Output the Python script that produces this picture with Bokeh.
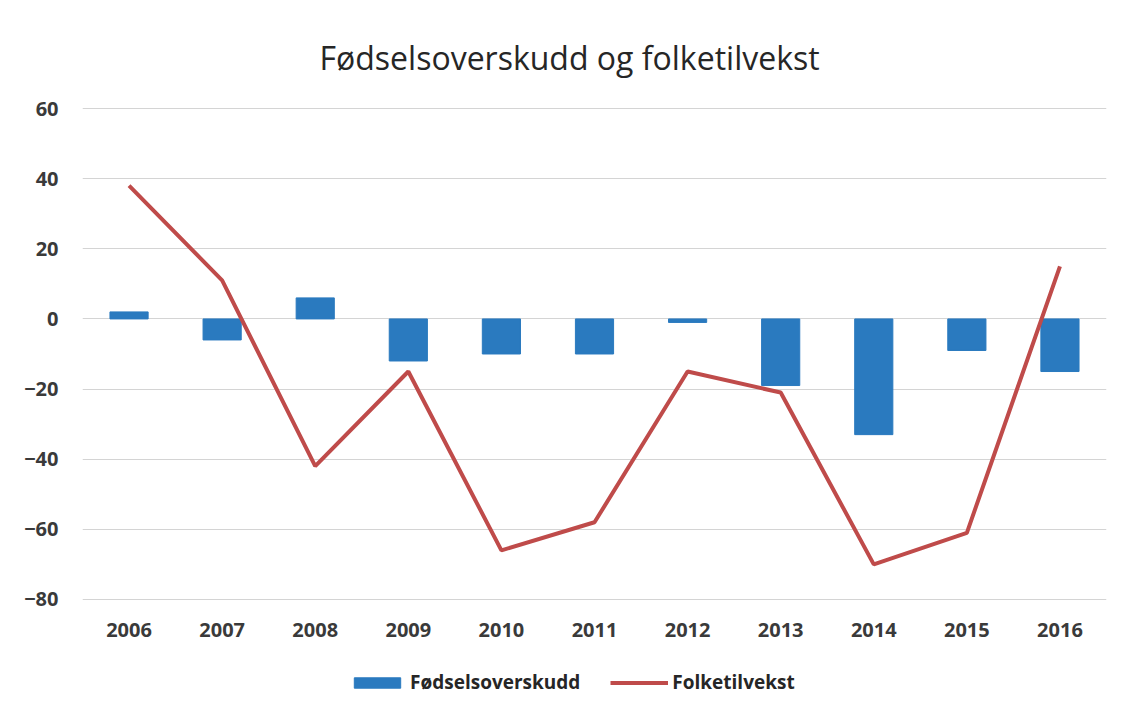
from bokeh.plotting import figure
from bokeh.models import ColumnDataSource, Legend, LegendItem, FixedTicker, Range1d
from bokeh.core.properties import value
from bokeh.embed import file_html
from bokeh.resources import INLINE

years = ["2006", "2007", "2008", "2009", "2010", "2011", "2012", "2013", "2014", "2015", "2016"]
fodselsoverskudd = [2, -6, 6, -12, -10, -10, -1, -19, -33, -9, -15]
folketilvekst = [38, 11, -42, -15, -66, -58, -15, -21, -70, -61, 15]
y_ticks = [-80, -60, -40, -20, 0, 20, 40, 60]
axis_min = -80

src = ColumnDataSource(dict(year=years, bar=fodselsoverskudd, line=folketilvekst,
                            base=[axis_min] * len(years)))

p = figure(x_range=years, y_range=Range1d(-109.4, 60.3), width=1114, height=710,
           output_backend="svg", toolbar_location=None,
           min_border_left=82, min_border_right=8, min_border_top=107, min_border_bottom=8)
p.outline_line_color = None
p.background_fill_color = "white"
p.border_fill_color = "white"

p.title.text = "Fødselsoverskudd og folketilvekst"
p.title.text_font = "Open Sans"
p.title.text_font_size = "32px"
p.title.text_font_style = "normal"
p.title.text_color = "#262626"
p.title.align = "left"
p.title.offset = 237
p.title.standoff = 58

bars = p.vbar(x="year", top="bar", bottom=0, width=0.41, source=src,
              fill_color="#2a7abf", line_color="#2a7abf")
ln = p.line(x="year", y="line", source=src, line_color="#bf4b4a", line_width=4)

# category labels under the bottom gridline
p.text(x="year", y="base", text="year", source=src, y_offset=31,
       text_align="center", text_baseline="middle",
       text_font=value("Open Sans"), text_font_size="20px", text_font_style="bold",
       text_color="#3a3a3a")
p.xaxis.visible = False

p.yaxis.ticker = FixedTicker(ticks=y_ticks)
p.ygrid.ticker = FixedTicker(ticks=y_ticks)
p.ygrid.grid_line_color = "#d4d4d4"
p.ygrid.grid_line_width = 1
p.xgrid.grid_line_color = None

p.yaxis.axis_line_color = None
p.yaxis.major_tick_line_color = None
p.yaxis.minor_tick_line_color = None
p.yaxis.major_tick_out = 0
p.yaxis.major_label_text_font = "Open Sans"
p.yaxis.major_label_text_font_size = "20px"
p.yaxis.major_label_text_font_style = "bold"
p.yaxis.major_label_text_color = "#3a3a3a"
p.yaxis.major_label_standoff = 24

legend = Legend(items=[LegendItem(label="Fødselsoverskudd", renderers=[bars]),
                       LegendItem(label="Folketilvekst", renderers=[ln])],
                orientation="horizontal", location=(266, 7),
                glyph_width=58, glyph_height=13, label_standoff=4, spacing=30,
                padding=0, margin=0, border_line_color=None,
                background_fill_alpha=0,
                label_text_font="Open Sans", label_text_font_size="19px",
                label_text_font_style="bold", label_text_color="#262626")
p.add_layout(legend, "center")

open("out.html", "w").write(file_html(p, INLINE))
